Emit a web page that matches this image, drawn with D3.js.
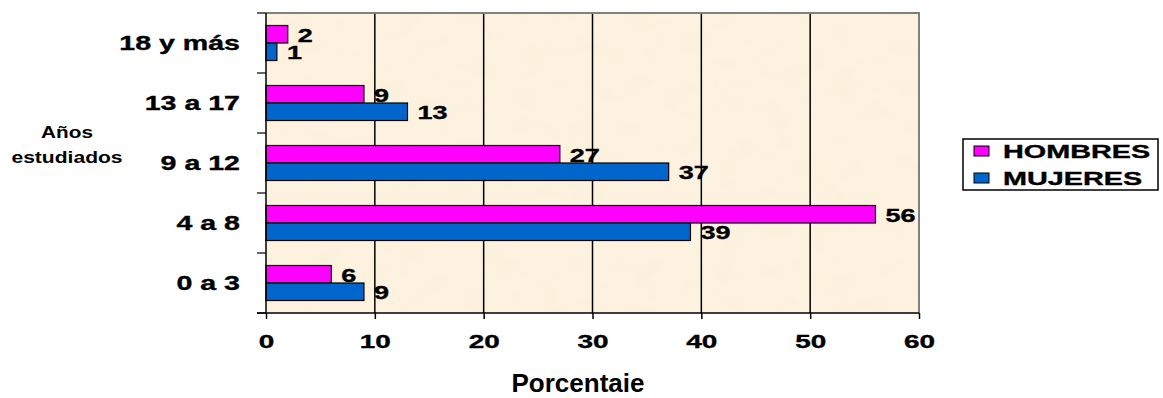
<!DOCTYPE html>
<html>
<head>
<meta charset="utf-8">
<script src="https://cdn.jsdelivr.net/npm/d3@7"></script>
<style>
  html, body { margin: 0; padding: 0; background: #fff; }
  svg { display: block; }
  text { font-family: "Liberation Sans", Arial, sans-serif; font-weight: bold; fill: #000; }
  .heavy { stroke: #000; stroke-width: 0.35px; }
</style>
</head>
<body>
<svg id="chart" width="1163" height="398"></svg>
<script>
// Years of schooling, top to bottom
const categories = ["18 y más", "13 a 17", "9 a 12", "4 a 8", "0 a 3"];
const hombres = [2, 9, 27, 56, 6];
const mujeres = [1, 13, 37, 39, 9];
const seriesNames = ["HOMBRES", "MUJERES"];
const seriesColors = ["#FF00FF", "#0066CC"];
const xTicks = [0, 10, 20, 30, 40, 50, 60];

const svg = d3.select("#chart");
const plot = { left: 266, right: 919, top: 13, bottom: 313 };

const x = d3.scaleLinear().domain([0, 60]).range([plot.left, plot.right]);
const y = d3.scaleBand().domain(categories).range([plot.top, plot.bottom]).paddingInner(0).paddingOuter(0);
const ySub = d3.scaleBand().domain(seriesNames).range([0, y.bandwidth()]).paddingInner(0).paddingOuter(0.714);

// Parchment-like plot background
const defs = svg.append("defs");
const f = defs.append("filter").attr("id", "parch").attr("x", 0).attr("y", 0).attr("width", 1).attr("height", 1);
f.append("feTurbulence").attr("type", "fractalNoise").attr("baseFrequency", "0.035 0.05").attr("numOctaves", 3).attr("seed", 7);
f.append("feColorMatrix").attr("type", "matrix")
  .attr("values", "0 0 0 0 0.91  0 0 0 0 0.83  0 0 0 0 0.64  1.6 0 0 0 -0.72");

svg.append("rect").attr("x", plot.left).attr("y", plot.top)
  .attr("width", plot.right - plot.left).attr("height", plot.bottom - plot.top)
  .attr("fill", "#FDF2DF");
svg.append("rect").attr("x", plot.left).attr("y", plot.top)
  .attr("width", plot.right - plot.left).attr("height", plot.bottom - plot.top)
  .attr("filter", "url(#parch)").attr("opacity", 0.4);

// Vertical gridlines
svg.append("g").selectAll("line").data(xTicks.filter(t => t > 0 && t < 60)).join("line")
  .attr("x1", d => x(d)).attr("x2", d => x(d))
  .attr("y1", plot.top).attr("y2", plot.bottom)
  .attr("stroke", "#000").attr("stroke-width", 1.5);

// Top and right frame (grey)
svg.append("path")
  .attr("d", `M${plot.left},${plot.top}H${plot.right}V${plot.bottom}`)
  .attr("fill", "none").attr("stroke", "#808080").attr("stroke-width", 2);

// Bars
const rows = categories.map((c, i) => ({ c, vals: [hombres[i], mujeres[i]] }));
const g = svg.append("g");
rows.forEach(r => {
  r.vals.forEach((v, k) => {
    const yy = y(r.c) + ySub(seriesNames[k]);
    g.append("rect")
      .attr("x", x(0)).attr("y", yy)
      .attr("width", x(v) - x(0)).attr("height", ySub.bandwidth())
      .attr("fill", seriesColors[k]).attr("stroke", "#000").attr("stroke-width", 1.2);
    g.append("text").attr("class", "heavy")
      .attr("transform", `translate(${x(v) + 10},${yy + ySub.bandwidth() - 1.5}) scale(1.5,1)`)
      .attr("font-size", 18)
      .text(v);
  });
});

// Axes lines
svg.append("line").attr("x1", plot.left).attr("x2", plot.left)
  .attr("y1", plot.top).attr("y2", plot.bottom).attr("stroke", "#000").attr("stroke-width", 1.5);
svg.append("line").attr("x1", plot.left - 9).attr("x2", plot.right)
  .attr("y1", plot.bottom).attr("y2", plot.bottom).attr("stroke", "#000").attr("stroke-width", 1.5);

// Category boundary ticks on the left
const bounds = categories.map(c => y(c)).concat([plot.bottom]);
svg.append("g").selectAll("line").data(bounds).join("line")
  .attr("x1", plot.left - 9).attr("x2", plot.left)
  .attr("y1", d => d).attr("y2", d => d)
  .attr("stroke", "#000").attr("stroke-width", 1.2);

// Bottom axis
const xAxis = svg.append("g").attr("transform", `translate(0,${plot.bottom})`)
  .call(d3.axisBottom(x).tickValues(xTicks).tickSizeInner(6).tickSizeOuter(0).tickPadding(16));
xAxis.select(".domain").remove();
xAxis.selectAll(".tick line").attr("stroke", "#000").attr("stroke-width", 1.5);
xAxis.selectAll(".tick text")
  .attr("class", "heavy")
  .attr("font-size", 18).attr("font-family", null).attr("fill", "#000")
  .attr("dy", null).attr("y", 35)
  .attr("transform", "scale(1.55,1)");

// Left axis labels
const yAxis = svg.append("g").attr("transform", `translate(${plot.left},0)`)
  .call(d3.axisLeft(y).tickSize(0).tickPadding(0));
yAxis.select(".domain").remove();
yAxis.selectAll(".tick text")
  .attr("class", "heavy")
  .attr("font-size", 20).attr("font-family", null).attr("fill", "#000")
  .attr("x", -26 / 1.43).attr("dy", "0.36em")
  .attr("transform", "scale(1.43,1)");

// Axis titles
svg.append("text").attr("x", 578).attr("y", 392)
  .attr("text-anchor", "middle").attr("font-size", 25)
  .attr("textLength", 133).attr("lengthAdjust", "spacingAndGlyphs")
  .text("Porcentaie");

const yTitle = svg.append("g").attr("transform", "translate(67,0)");
yTitle.append("text").attr("transform", "translate(0,138) scale(1.22,1)")
  .attr("text-anchor", "middle").attr("font-size", 17).text("Años");
yTitle.append("text").attr("transform", "translate(0,163) scale(1.24,1)")
  .attr("text-anchor", "middle").attr("font-size", 17).text("estudiados");

// Legend
const leg = svg.append("g");
leg.append("rect").attr("x", 963).attr("y", 139).attr("width", 195).attr("height", 51)
  .attr("fill", "#fff").attr("stroke", "#000").attr("stroke-width", 1.5);
seriesNames.forEach((s, i) => {
  const cy = 151 + i * 27;
  leg.append("rect").attr("x", 974).attr("y", cy - 5).attr("width", 15).attr("height", 10)
    .attr("fill", seriesColors[i]).attr("stroke", "#000").attr("stroke-width", 1);
  leg.append("text").attr("class", "heavy")
    .attr("transform", `translate(1003,${cy + 6.5}) scale(1.6,1)`)
    .attr("font-size", 18).text(s);
});
</script>
</body>
</html>
